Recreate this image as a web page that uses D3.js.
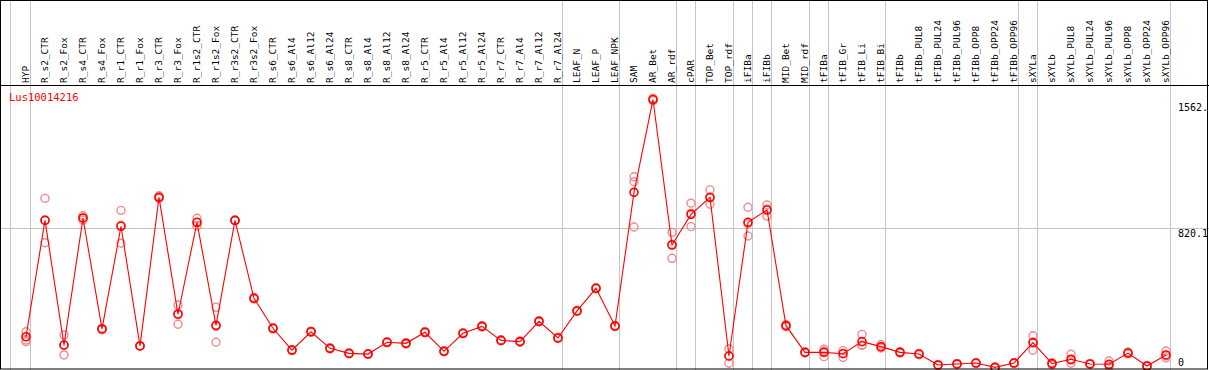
<!DOCTYPE html>
<html>
<head>
<meta charset="utf-8">
<script src="https://cdnjs.cloudflare.com/ajax/libs/d3/7.8.5/d3.min.js"></script>
<style>
  body { margin: 0; background: #fff; }
  text { font-family: "DejaVu Sans Mono", monospace; }
</style>
</head>
<body>
<div id="chart"></div>
<script>
  // column names
  let samples = ["HYP","R_s2_CTR","R_s2_Fox","R_s4_CTR","R_s4_Fox","R_r1_CTR","R_r1_Fox","R_r3_CTR","R_r3_Fox",
    "R_r1s2_CTR","R_r1s2_Fox","R_r3s2_CTR","R_r3s2_Fox","R_s6_CTR","R_s6_Al4","R_s6_Al12","R_s6_Al24",
    "R_s8_CTR","R_s8_Al4","R_s8_Al12","R_s8_Al24","R_r5_CTR","R_r5_Al4","R_r5_Al12","R_r5_Al24",
    "R_r7_CTR","R_r7_Al4","R_r7_Al12","R_r7_Al24","LEAF_N","LEAF_P","LEAF_NPK","SAM","AR_Bet","AR_rdf",
    "cPAR","TOP_Bet","TOP_rdf","iFIBa","iFIBb","MID_Bet","MID_rdf","tFIBa","tFIB_Gr","tFIB_Li","tFIB_Bi",
    "tFIBb","tFIBb_PUL8","tFIBb_PUL24","tFIBb_PUL96","tFIBb_OPP8","tFIBb_OPP24","tFIBb_OPP96",
    "sXYLa","sXYLb","sXYLb_PUL8","sXYLb_PUL24","sXYLb_PUL96","sXYLb_OPP8","sXYLb_OPP24","sXYLb_OPP96"];

  // mean expression per column
  let means = [192,864,144,878,237,830,139,997,322,853,258,864,414,241,115,221,125,96,92,160,154,218,108,212,252,
    171,164,281,185,341,472,254,1026,1562,722,899,997,81,853,924,256,102,102,94,164,135,102,92,29,35,40,15,40,
    158,37,62,35,33,98,23,87];

  // replicates (three per column)
  let rep1 = [221,991,202,891,232,922,137,1006,375,876,362,862,420,236,112,226,121,99,90,164,150,222,104,216,248,
    175,160,285,181,345,468,250,1116,1570,795,963,1040,123,940,953,262,98,77,73,206,148,98,88,26,32,37,12,37,
    198,30,91,38,52,104,20,110];
  let rep2 = [163,735,87,866,240,732,141,993,264,832,160,866,410,245,118,218,128,93,95,157,158,214,112,209,256,
    168,168,278,189,338,476,258,1087,1556,645,828,957,39,774,889,250,104,108,112,144,130,106,96,32,38,43,18,43,
    114,42,39,33,28,93,26,70];
  let rep3 = [173,866,144,878,238,836,139,992,327,851,252,864,412,242,115,220,126,96,91,159,154,218,108,211,252,
    170,164,280,185,340,472,254,826,1560,726,906,994,81,845,930,256,102,120,97,142,127,102,92,29,35,40,15,40,
    162,39,56,34,19,97,23,81];

  // boundaries drawn after these column indices
  let groupEnds = [0,28,31,34,35,37,38,39,41,42,45,52,53,60];

  let yTicks = [0, 820.1, 1640.2];
  let yTickLabels = ["0", "820.1", "1562."];
  let title = "Lus10014216";

  let width = 1209, height = 370;

  let svg = d3.select("#chart").append("svg")
    .attr("width", width)
    .attr("height", height);

  svg.append("defs").append("clipPath").attr("id", "clip")
    .append("rect").attr("x", 0).attr("y", 0).attr("width", 1207).attr("height", height);

  let x = d3.scaleLinear().domain([0, samples.length - 1]).range([26, 26 + 19 * 60]);
  let y = d3.scaleLinear().domain([0, 1640.2]).range([370, 86]);

  // group separator lines
  svg.append("line")
    .attr("x1", 10.5).attr("x2", 10.5).attr("y1", 0).attr("y2", height)
    .style("stroke", "#c4c4c4");
  svg.append("g").selectAll("line")
    .data(groupEnds)
    .enter().append("line")
      .attr("x1", d => Math.round(x(d)) + 4.5)
      .attr("x2", d => Math.round(x(d)) + 4.5)
      .attr("y1", 0).attr("y2", height)
      .style("stroke", "#c4c4c4");

  // middle reference line
  svg.append("line")
    .attr("x1", 0).attr("x2", width)
    .attr("y1", Math.round(y(820.1)) + 0.5).attr("y2", Math.round(y(820.1)) + 0.5)
    .style("stroke", "#c4c4c4");

  // column labels, reading upward from the header line
  svg.append("g").selectAll("text")
    .data(samples)
    .enter().append("text")
      .attr("transform", (d, i) => "translate(" + (x(i) + 3) + ",83) rotate(-90)")
      .style("font-size", "9.5px")
      .style("fill", "#000")
      .text(d => d);

  // value labels on the right
  svg.append("g").attr("clip-path", "url(#clip)").selectAll("text")
    .data(yTicks)
    .enter().append("text")
      .attr("x", 1178)
      .attr("y", d => d === 1640.2 ? 111 : Math.min(y(d) + 9, 366))
      .style("font-size", "10px")
      .style("fill", "#000")
      .text((d, i) => yTickLabels[i]);

  // title
  svg.append("text")
    .attr("x", 9).attr("y", 101)
    .style("font-size", "10.5px")
    .style("fill", "#ff0000")
    .text(title);

  // replicate circles
  let reps = [];
  [rep1, rep2, rep3].forEach(r => r.forEach((v, i) => reps.push({i: i, v: v})));
  svg.append("g").selectAll("circle")
    .data(reps)
    .enter().append("circle")
      .attr("cx", d => x(d.i))
      .attr("cy", d => y(d.v))
      .attr("r", 4)
      .style("fill", "none")
      .style("stroke", "#f08c8c")
      .style("stroke-width", 1.4);

  // mean line
  let line = d3.line()
    .x((d, i) => x(i))
    .y(d => y(d));
  svg.append("path")
    .datum(means)
    .attr("d", line)
    .style("fill", "none")
    .style("stroke", "#ff0000")
    .style("stroke-width", 1.1);

  // mean circles
  svg.append("g").selectAll("circle")
    .data(means)
    .enter().append("circle")
      .attr("cx", (d, i) => x(i))
      .attr("cy", d => y(d))
      .attr("r", 4)
      .style("fill", "none")
      .style("stroke", "#ff0000")
      .style("stroke-width", 1.6);

  // frame
  svg.append("rect")
    .attr("x", 0.5).attr("y", 0.5).attr("width", 1207).attr("height", 368.5)
    .style("fill", "none").style("stroke", "#000");
  svg.append("line")
    .attr("x1", 0).attr("x2", width).attr("y1", 85.5).attr("y2", 85.5)
    .style("stroke", "#000");
</script>
</body>
</html>
